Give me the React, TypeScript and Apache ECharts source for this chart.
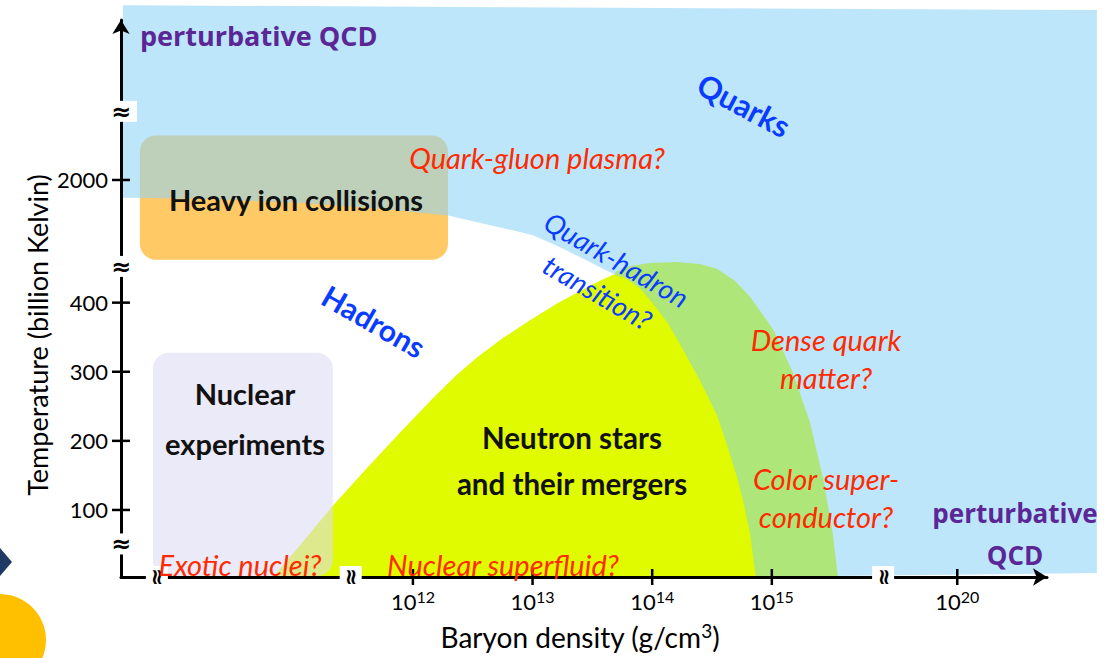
import React, { useEffect, useRef } from "react";
import * as echarts from "echarts";

// Schematic coordinates. x: log10 of baryon density (decades; axis broken, 10^20 sits after a break).
// y: temperature in billion K on the lower linear part; the 2000 tick sits above a break.
const X_MIN = 9.56;
const X_MAX = 17.3;
const Y_MIN = 3;
const Y_MAX = 809;

const xTickPos = [12, 13, 14, 15, 16.55];
const xTickExp = ["12", "13", "14", "15", "20"];
const yTickPos = [100, 200, 300, 400, 577.5];
const yTickLabels = ["100", "200", "300", "400", "2000"];
const xBreaks = [9.86, 11.48, 15.93];
const yBreaks = [676.1, 451.7, 50.1];

// outer corners of the quark (blue) region
const quarkOuter = [
  [9.576, 830.4],
  [17.717, 823.3],
  [17.717, 8.7],
];
// hadron / quark boundary (left to right)
const hadronBoundary = [
  [9.576, 551.8],
  [10.22, 550.3],
  [11.055, 544.6],
  [11.724, 536.0],
  [12.293, 526.0],
  [12.836, 504.6],
  [13.01, 497.0],
  [13.18, 484.0],
  [13.396, 466.0],
  [13.672, 441.7],
  [13.981, 394.6],
  [14.315, 308.8],
  [14.566, 194.5],
  [14.733, 3],
];
const neutronStars = [
  [10.83, 3],
  [11.055, 48.7],
  [11.323, 104.5],
  [11.599, 157.3],
  [11.891, 211.6],
  [12.167, 261.7],
  [12.351, 293.1],
  [12.543, 321.7],
  [12.752, 348.8],
  [12.978, 374.6],
  [13.204, 398.8],
  [13.438, 420.3],
  [13.563, 431.7],
  [13.672, 440.3],
  [13.772, 436.0],
  [13.898, 420.3],
  [14.006, 398.8],
  [14.131, 370.3],
  [14.232, 340.3],
  [14.399, 287.4],
  [14.541, 237.4],
  [14.625, 194.5],
  [14.709, 147.3],
  [14.767, 108.7],
  [14.817, 65.9],
  [14.867, 3],
];
const denseQuark = [
  [13.898, 3],
  [13.688, 366.0],
  [13.663, 430.3],
  [13.696, 444.6],
  [13.814, 453.2],
  [13.981, 457.4],
  [14.207, 458.9],
  [14.399, 456.0],
  [14.541, 448.9],
  [14.691, 431.7],
  [14.817, 408.9],
  [15.009, 361.7],
  [15.176, 298.8],
  [15.318, 227.4],
  [15.427, 147.3],
  [15.51, 65.9],
  [15.552, 3],
];
const heavyIonBox = [[9.718, 641.8, 12.293, 462.0]];
const nuclearBox = [[9.827, 327.4, 11.331, 4.4]];

const nearest = (arr: number[], v: number) => {
  let bi = 0;
  for (let i = 1; i < arr.length; i++) if (Math.abs(arr[i] - v) < Math.abs(arr[bi] - v)) bi = i;
  return bi;
};

function polygonSeries(id: string, pts: number[][], fill: string, z: number) {
  return {
    type: "custom",
    id,
    z,
    silent: true,
    clip: false,
    data: pts,
    renderItem: (params: any, api: any) => {
      if (params.dataIndex !== 0) return null;
      return {
        type: "polygon",
        shape: { points: pts.map((p) => api.coord(p)) },
        style: { fill },
      };
    },
  };
}

function boxSeries(id: string, box: number[][], fill: string, z: number) {
  return {
    type: "custom",
    id,
    z,
    silent: true,
    clip: false,
    data: box,
    renderItem: (params: any, api: any) => {
      const a = api.coord([api.value(0), api.value(1)]);
      const b = api.coord([api.value(2), api.value(3)]);
      return {
        type: "rect",
        shape: { x: a[0], y: a[1], width: b[0] - a[0], height: b[1] - a[1], r: 16 },
        style: { fill },
      };
    },
  };
}

const CAL = "Lato, 'Open Sans', sans-serif";
const RED = "#FF2A00";
const BLUE = "#0A3CFF";
const PURPLE = "#5B2696";

function txt(text: string, x: number, y: number, o: any = {}) {
  return {
    type: "text",
    x,
    y,
    z: 100,
    rotation: o.rot ? (-o.rot * Math.PI) / 180 : 0,
    silent: true,
    style: {
      text,
      fill: o.color || "#111",
      fontFamily: o.family || CAL,
      fontSize: o.size || 26,
      fontWeight: o.weight || "normal",
      fontStyle: o.style || "normal",
      lineHeight: o.lh || undefined,
      align: o.align || "center",
      textAlign: o.align || "center",
      verticalAlign: "middle",
      textVerticalAlign: "middle",
    },
  };
}

export default function App() {
  const ref = useRef<HTMLDivElement>(null);
  useEffect(() => {
    if (!ref.current) return;
    const chart = echarts.init(ref.current, undefined, { renderer: "svg" });
    const blueRegion = [...quarkOuter, ...hadronBoundary.slice().reverse()];
    const option: any = {
      animation: false,
      backgroundColor: "#fff",
      grid: { left: 121, right: 57, top: 20, bottom: 74 },
      xAxis: {
        type: "value",
        min: X_MIN,
        max: X_MAX,
        z: 10,
        splitLine: { show: false },
        axisTick: { show: false },
        axisLine: {
          show: true,
          onZero: false,
          lineStyle: { color: "#000", width: 3 },
          symbol: ["none", "arrow"],
          symbolSize: [13, 14],
        },
        axisLabel: {
          customValues: xTickPos,
          margin: 11,
          formatter: (v: number) => `{b|10}{s|${xTickExp[nearest(xTickPos, v)]}}`,
          rich: {
            b: { fontSize: 22, fontFamily: CAL, color: "#000", lineHeight: 26 },
            s: { fontSize: 16, fontFamily: CAL, color: "#000", lineHeight: 14, verticalAlign: "top" },
          },
        },
        name: "Baryon density (g/cm{s|3})",
        nameLocation: "middle",
        nameGap: 44,
        nameTextStyle: {
          fontSize: 28,
          fontFamily: CAL,
          color: "#000",
          lineHeight: 32,
          padding: [0, 8, 0, 0],
          rich: { s: { fontSize: 19, fontFamily: CAL, color: "#000", lineHeight: 20, verticalAlign: "top" } },
        },
      },
      yAxis: {
        type: "value",
        min: Y_MIN,
        max: Y_MAX,
        z: 10,
        splitLine: { show: false },
        axisTick: { show: false },
        axisLine: {
          show: true,
          onZero: false,
          lineStyle: { color: "#000", width: 3 },
          symbol: ["none", "arrow"],
          symbolSize: [13, 14],
        },
        axisLabel: {
          customValues: yTickPos,
          margin: 13,
          fontSize: 22,
          fontFamily: CAL,
          color: "#000",
          formatter: (v: number) => yTickLabels[nearest(yTickPos, v)],
        },
      },
      series: [
        boxSeries("heavyIon", heavyIonBox, "#FFC966", 1),
        polygonSeries("quarks", blueRegion, "rgba(143,212,246,0.58)", 2),
        polygonSeries("denseQuark", denseQuark, "#AEE67A", 3),
        polygonSeries("neutronStars", neutronStars, "#E0FA00", 4),
        boxSeries("nuclear", nuclearBox, "rgba(221,219,243,0.58)", 5),
        {
          type: "custom",
          id: "yTicks",
          z: 11,
          silent: true,
          clip: false,
          data: yTickPos.map((v) => [X_MIN, v]),
          renderItem: (p: any, api: any) => {
            const c = api.coord([api.value(0), api.value(1)]);
            return { type: "line", shape: { x1: c[0] - 9, y1: c[1], x2: c[0] + 9, y2: c[1] }, style: { stroke: "#000", lineWidth: 2.5 } };
          },
        },
        {
          type: "custom",
          id: "xTicks",
          z: 11,
          silent: true,
          clip: false,
          data: xTickPos.map((u) => [u, Y_MIN]),
          renderItem: (p: any, api: any) => {
            const c = api.coord([api.value(0), api.value(1)]);
            return { type: "line", shape: { x1: c[0], y1: c[1] - 8, x2: c[0], y2: c[1] + 8 }, style: { stroke: "#000", lineWidth: 2.5 } };
          },
        },
        {
          type: "custom",
          id: "yBreaks",
          z: 12,
          silent: true,
          clip: false,
          data: yBreaks.map((v) => [X_MIN, v]),
          renderItem: (p: any, api: any) => {
            const c = api.coord([api.value(0), api.value(1)]);
            return {
              type: "group",
              children: [
                { type: "rect", shape: { x: c[0] - 9, y: c[1] - 11, width: 25, height: 21 }, style: { fill: "#fff" } },
                {
                  type: "text",
                  x: c[0],
                  y: c[1],
                  style: { text: "≈", fontSize: 24, fontFamily: "DejaVu Sans", fontWeight: "bold", fill: "#000", align: "center", verticalAlign: "middle" },
                },
              ],
            };
          },
        },
        {
          type: "custom",
          id: "xBreaks",
          z: 12,
          silent: true,
          clip: false,
          data: xBreaks.map((u) => [u, Y_MIN]),
          renderItem: (p: any, api: any) => {
            const c = api.coord([api.value(0), api.value(1)]);
            return {
              type: "group",
              children: [
                { type: "rect", shape: { x: c[0] - 11, y: c[1] - 11, width: 22, height: 22 }, style: { fill: "#fff" } },
                {
                  type: "text",
                  x: c[0],
                  y: c[1],
                  rotation: Math.PI / 2,
                  style: { text: "≈", fontSize: 22, fontFamily: "DejaVu Sans", fontWeight: "bold", fill: "#000", align: "center", verticalAlign: "middle" },
                },
              ],
            };
          },
        },
      ],
      graphic: [
        { type: "circle", z: 100, silent: true, shape: { cx: 0, cy: 640, r: 46 }, style: { fill: "#FFC000" } },
        { type: "polygon", z: 100, silent: true, shape: { points: [[0, 548], [12, 562], [0, 576]] }, style: { fill: "#1F3864" } },
        txt("Temperature (billion Kelvin)", 37, 335, { size: 27, color: "#000", rot: -90 }),
        txt("perturbative QCD", 140, 35, { family: "'Open Sans', sans-serif", weight: "bold", size: 27, color: PURPLE, align: "left" }),
        txt("Quarks", 744, 105, { weight: "bold", size: 31, color: BLUE, rot: 28 }),
        txt("Quark-gluon plasma?", 537, 157, { style: "italic", size: 29, color: RED }),
        txt("Heavy ion collisions", 296, 199, { weight: "bold", size: 29 }),
        txt("Quark-hadron\ntransition?", 607, 276, { style: "italic", size: 27.5, color: BLUE, rot: 30, lh: 38 }),
        txt("Hadrons", 374, 321, { weight: "bold", size: 30, color: BLUE, rot: 30 }),
        txt("Dense quark\nmatter?", 826, 358, { style: "italic", size: 29, color: RED, lh: 38 }),
        txt("Nuclear\nexperiments", 245, 418, { weight: "bold", size: 29, lh: 50 }),
        txt("Neutron stars\nand their mergers", 572, 460, { weight: "bold", size: 29.5, lh: 46 }),
        txt("Color super-\nconductor?", 826, 497, { style: "italic", size: 29, color: RED, lh: 38 }),
        txt("perturbative\nQCD", 1015, 534, { family: "'Open Sans', sans-serif", weight: "bold", size: 26, color: PURPLE, lh: 42 }),
        txt("Exotic nuclei?", 240, 564, { style: "italic", size: 29, color: RED }),
        txt("Nuclear superfluid?", 503, 564, { style: "italic", size: 29, color: RED }),
      ],
    };
    chart.setOption(option);
    return () => chart.dispose();
  }, []);
  return <div ref={ref} style={{ position: "fixed", left: 0, top: 0, width: 1104, height: 658 }} />;
}
